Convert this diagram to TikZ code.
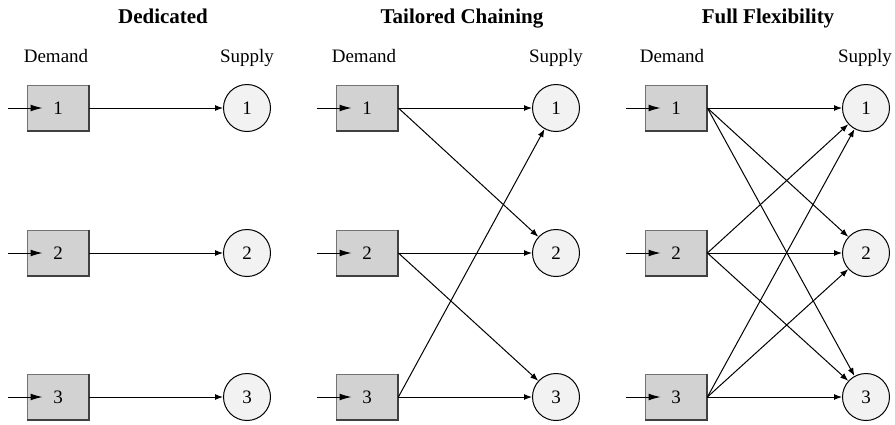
\documentclass[tikz,border=0pt]{standalone}
\usepackage{fontspec}
\setmainfont{Liberation Serif}
\usetikzlibrary{arrows.meta}

\begin{document}
\begin{tikzpicture}[x=0.5pt, y=-0.5pt,
    demand/.style={draw=black!55, line width=0.4pt, fill=gray!35, minimum width=31pt,
      minimum height=23pt, inner sep=0pt, font=\fontsize{9.5}{11}\selectfont},
    boxrim/.style={draw=black!75, line width=1pt},
    supply/.style={circle, draw, line width=0.5pt, fill=gray!10, minimum size=23.5pt,
      inner sep=0pt, font=\fontsize{9.5}{11}\selectfont},
    link/.style={line width=0.5pt, -{Latex[length=4pt,width=3pt]}},
    feed/.style={line width=0.5pt, -{Latex[length=6pt,width=3.4pt]}},
    head/.style={anchor=base, font=\bfseries\fontsize{10.5}{12}\selectfont},
    side/.style={anchor=base, font=\fontsize{9.5}{11}\selectfont}]
    \useasboundingbox (0,0) rectangle (895,424);

    % Dedicated
    \node[head] (tDed) at (163,23) {Dedicated};
    \node[side] (lDed) at (56,62) {Demand};
    \node[side] (rDed) at (247,62) {Supply};
    \foreach \i/\y in {1/108,2/253,3/397} {
        \node[demand] (dedD\i) at (58,\y) {\i};
        \draw[boxrim] (dedD\i.north east) -- (dedD\i.south east) -- (dedD\i.south west);
        \node[supply] (dedS\i) at (247,\y) {\i};
        \coordinate (dedIn\i) at (8,\y);
        \draw[feed] (dedIn\i) -- ([xshift=8pt]dedD\i.west);
        \draw[link] (dedD\i.east) -- (dedS\i);
    }

    % Tailored chaining
    \node[head] (tCh) at (462,23) {Tailored Chaining};
    \node[side] (lCh) at (364,62) {Demand};
    \node[side] (rCh) at (556,62) {Supply};
    \foreach \i/\y in {1/108,2/253,3/397} {
        \node[demand] (chD\i) at (367,\y) {\i};
        \draw[boxrim] (chD\i.north east) -- (chD\i.south east) -- (chD\i.south west);
        \node[supply] (chS\i) at (556,\y) {\i};
        \coordinate (chIn\i) at (317,\y);
        \draw[feed] (chIn\i) -- ([xshift=8pt]chD\i.west);
    }
    \foreach \a/\b in {1/1,1/2,2/2,2/3,3/3,3/1}
        \draw[link] (chD\a.east) -- (chS\b);

    % Full flexibility
    \node[head] (tFl) at (768,23) {Full Flexibility};
    \node[side] (lFl) at (672,62) {Demand};
    \node[side] (rFl) at (865,62) {Supply};
    \foreach \i/\y in {1/108,2/253,3/397} {
        \node[demand] (flD\i) at (676,\y) {\i};
        \draw[boxrim] (flD\i.north east) -- (flD\i.south east) -- (flD\i.south west);
        \node[supply] (flS\i) at (866,\y) {\i};
        \coordinate (flIn\i) at (626,\y);
        \draw[feed] (flIn\i) -- ([xshift=8pt]flD\i.west);
    }
    \foreach \a in {1,2,3}
        \foreach \b in {1,2,3}
            \draw[link] (flD\a.east) -- (flS\b);
\end{tikzpicture}
\end{document}
